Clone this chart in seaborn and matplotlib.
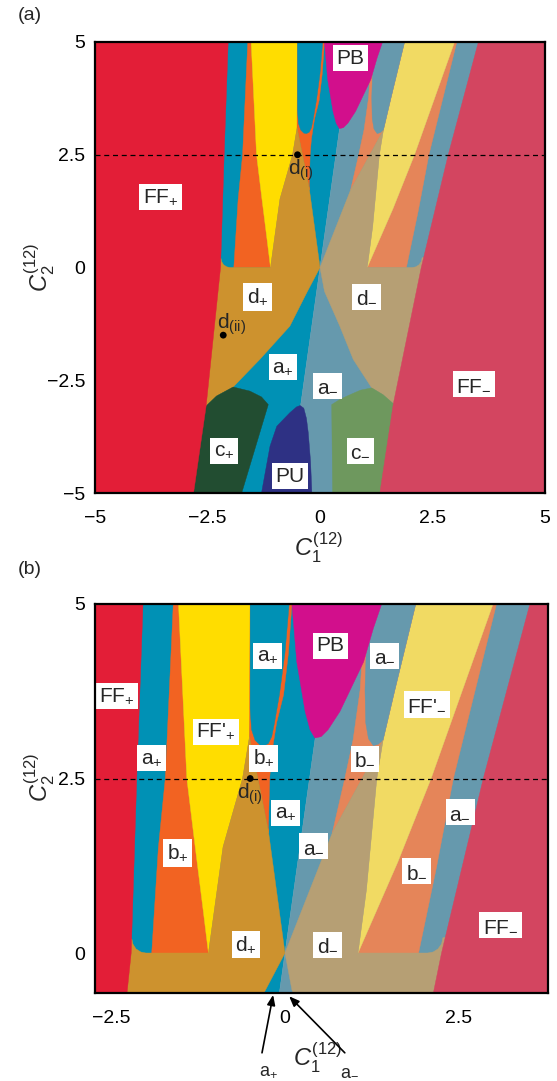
import matplotlib
matplotlib.use("Agg")
import matplotlib.pyplot as plt
import seaborn as sns

# ---------------- phase colours ----------------
C_FFP = "#E31E37"   # FF+
C_FFM = "#D34560"   # FF-
C_AP = "#0091B5"    # a+
C_AM = "#6699AD"    # a-
C_BP = "#F26322"    # b+
C_BM = "#E58559"    # b-
C_YP = "#FFDD00"    # FF'+
C_YM = "#F1DA63"    # FF'-
C_DP = "#CD922E"    # d+
C_DM = "#B69F74"    # d-
C_CP = "#224D31"    # c+
C_CM = "#6E985E"    # c-
C_PU = "#2E3184"    # PU
C_PB = "#D20F8C"    # PB

# ---------------- phase boundaries (C1, C2) ----------------
FFP_X = [-2.04, -2.13, -2.21, -2.53, -2.81]
FFP_Y = [5.0, 2.5, 0.0, -3.07, -5.0]
FFM_X = [3.52, 2.85, 2.25, 1.63, 1.33]
FFM_Y = [5.0, 2.5, 0.0, -3.02, -5.0]

SPLIT_X = [-0.705, 0.705]
SPLIT_Y = [-5.0, 5.0]

AP_COL_X = [-1.605, -1.72, -1.82, -1.915]
AP_COL_Y = [5.0, 2.5, 1.5, 0.0]
YP_L_X = [-1.53, -1.41, -1.29, -1.17, -1.10]
YP_L_Y = [5.0, 2.5, 1.52, 0.57, 0.0]
YP_R_X = [-1.10, -0.89, -0.61, -0.51]
YP_R_Y = [0.0, 1.52, 2.5, 3.1]
UP_X = [-0.50, -0.50, -0.48, -0.43, -0.36, -0.30, -0.24, -0.19, -0.15, -0.08, 0.0, 0.06]
UP_Y = [5.0, 3.5, 3.2, 3.05, 2.98, 2.97, 3.0, 3.1, 3.3, 3.7, 4.3, 5.0]
BP_X = [-0.24, -0.22, -0.19, -0.12, -0.02, 0.05, 0.10]
BP_Y = [1.72, 2.5, 2.86, 3.3, 3.7, 4.3, 5.0]
DP_R_X = [-0.51, -0.24, 0.0]
DP_R_Y = [3.1, 1.76, 0.0]
DP_ARC_X = [0.0, -0.29, -0.67, -1.34, -1.93]
DP_ARC_Y = [0.0, -0.55, -1.30, -2.04, -2.65]
DP_CORNER_X = [-2.9, -2.20, -2.186, -2.141, -2.07, -2.0]
DP_CORNER_Y = [0.2, 0.2, 0.13, 0.059, 0.014, 0.0]
CP_TOP_X = [-2.53, -2.30, -1.93, -1.56, -1.30, -1.15]
CP_TOP_Y = [-3.07, -2.85, -2.65, -2.74, -2.87, -3.04]
CP_R_X = [-1.15, -1.74]
CP_R_Y = [-3.04, -5.0]
PU_X = [-1.30, -1.11, -0.96, -0.67, -0.52, -0.44, -0.36, -0.30, -0.26, -0.21, -0.18]
PU_Y = [-5.0, -3.96, -3.52, -3.22, -3.09, -3.06, -3.12, -3.35, -3.67, -4.3, -5.0]
PB_X = [0.10, 0.17, 0.29, 0.36, 0.43, 0.52, 0.62, 0.79, 1.13, 1.27, 1.39]
PB_Y = [5.0, 4.17, 3.46, 3.2, 3.08, 3.1, 3.2, 3.46, 4.17, 4.65, 5.0]

AM_COL_X = [3.04, 2.42, 2.18, 1.92]
AM_COL_Y = [5.0, 2.5, 1.24, 0.0]
YM_R_X = [2.99, 2.10, 1.62, 1.05]
YM_R_Y = [5.0, 2.5, 1.3, 0.0]
YM_L_X = [1.88, 1.58, 1.41, 1.32, 1.17, 1.05]
YM_L_Y = [5.0, 3.77, 3.05, 2.5, 0.9, 0.0]
UM_X = [1.30, 1.17, 1.15, 1.16, 1.20, 1.27, 1.34, 1.41]
UM_Y = [5.0, 4.4, 3.77, 3.3, 3.07, 2.97, 2.99, 3.05]
BM_X = [0.68, 0.86, 0.98, 1.08, 1.12, 1.25]
BM_Y = [1.72, 2.5, 3.06, 3.77, 4.4, 5.0]
DM_L_X = [0.0, 0.68, 1.41]
DM_L_Y = [0.0, 1.72, 3.05]
DM_ARC_X = [0.0, 0.10, 0.44, 0.74, 1.15]
DM_ARC_Y = [0.0, -0.53, -1.30, -2.04, -2.67]
DM_CORNER_X = [2.05, 2.13, 2.20, 2.25, 2.27, 2.9]
DM_CORNER_Y = [0.0, 0.015, 0.06, 0.13, 0.22, 0.22]
CM_TOP_X = [0.26, 0.45, 0.67, 0.90, 1.15, 1.40, 1.63]
CM_TOP_Y = [-3.04, -2.92, -2.82, -2.72, -2.67, -2.82, -3.02]
CM_L_X = [0.26, 0.28]
CM_L_Y = [-3.04, -5.0]

# marked parameter points
DOT_X = [-0.5, -2.15]
DOT_Y = [2.5, -1.5]

# phase labels: text, C1, C2
LABELS_A = [
    (r"FF$_{+}$", -3.54, 1.56), (r"PB", 0.68, 4.64),
    (r"d$_{+}$", -1.39, -0.65), (r"d$_{-}$", 1.03, -0.65),
    (r"a$_{+}$", -0.82, -2.21), (r"a$_{-}$", 0.17, -2.62),
    (r"c$_{+}$", -2.13, -4.06), (r"c$_{-}$", 0.90, -4.06),
    (r"PU", -0.67, -4.63), (r"FF$_{-}$", 3.42, -2.59),
]
LABELS_B = [
    (r"FF$_{+}$", -2.42, 3.68), (r"a$_{+}$", -1.92, 2.79),
    (r"FF$'_{+}$", -0.99, 3.17), (r"a$_{+}$", -0.25, 4.26),
    (r"b$_{+}$", -0.31, 2.79), (r"PB", 0.65, 4.40),
    (r"a$_{-}$", 1.43, 4.26), (r"FF$'_{-}$", 2.04, 3.56),
    (r"b$_{-}$", 1.15, 2.78), (r"a$_{+}$", 0.01, 2.01),
    (r"a$_{-}$", 0.41, 1.53), (r"b$_{+}$", -1.54, 1.43),
    (r"d$_{+}$", -0.56, 0.12), (r"a$_{-}$", 2.52, 2.02),
    (r"b$_{-}$", 1.89, 1.17), (r"d$_{-}$", 0.61, 0.12),
    (r"FF$_{-}$", 3.10, 0.40),
]
POINT_TEXT_A = [(r"d$_{(\mathrm{i})}$", -0.71, 2.15), (r"d$_{(\mathrm{ii})}$", -2.28, -1.25)]
POINT_TEXT_B = [(r"d$_{(\mathrm{i})}$", -0.69, 2.28)]

TICKS_A = [-5, -2.5, 0, 2.5, 5]
TICKS_B = [-2.5, 0, 2.5]
TICKS_B_Y = [0, 2.5, 5]
LIM_A = (-5, 5, -5, 5)
LIM_B = (-2.73, 3.78, -0.573, 5)


def pts(*parts):
    xs, ys = [], []
    for px, py in parts:
        xs += list(px)
        ys += list(py)
    return xs, ys


def rev(x, y):
    return x[::-1], y[::-1]


REGIONS = [
    # base halves split by the a+/a- line
    (pts(([-5, -5], [-5, 5]), (SPLIT_X[::-1], SPLIT_Y[::-1])), C_AP),
    (pts((SPLIT_X, SPLIT_Y), ([5, 5], [5, -5])), C_AM),
    # + side upper structure
    (pts((AP_COL_X, AP_COL_Y), rev(YP_L_X, YP_L_Y)), C_BP),
    (pts((YP_L_X, YP_L_Y), (YP_R_X[1:], YP_R_Y[1:]), ([-0.50, -0.50], [3.5, 5.0])), C_YP),
    (pts((DP_R_X[:2], DP_R_Y[:2]), (BP_X, BP_Y), ([-0.50], [5.0])), C_BP),
    (pts((UP_X, UP_Y)), C_AP),
    # - side upper structure
    (pts((YM_R_X, YM_R_Y), rev(AM_COL_X, AM_COL_Y)), C_BM),
    (pts((YM_L_X, YM_L_Y), rev(YM_R_X[:-1], YM_R_Y[:-1])), C_YM),
    (pts((BM_X, BM_Y), (YM_L_X[:3], YM_L_Y[:3])), C_BM),
    (pts((UM_X, UM_Y), rev(YM_L_X[:2], YM_L_Y[:2])), C_AM),
    # d phases
    (pts((DP_CORNER_X, DP_CORNER_Y), (YP_R_X, YP_R_Y), (DP_R_X[1:], DP_R_Y[1:]),
         (DP_ARC_X[1:], DP_ARC_Y[1:]), rev(CP_TOP_X[:2], CP_TOP_Y[:2]), ([-2.9], [-3.07])), C_DP),
    (pts((DM_L_X, DM_L_Y), (YM_L_X[3:], YM_L_Y[3:]), (DM_CORNER_X, DM_CORNER_Y), ([2.9], [-3.02]),
         rev(CM_TOP_X[4:], CM_TOP_Y[4:]), rev(DM_ARC_X[1:4], DM_ARC_Y[1:4])), C_DM),
    # c phases
    (pts((CP_TOP_X, CP_TOP_Y), (CP_R_X[1:], CP_R_Y[1:]), ([-2.9, -2.9], [-5.0, -3.07])), C_CP),
    (pts((CM_TOP_X, CM_TOP_Y), ([2.9, 2.9], [-3.02, -5.0]), (CM_L_X[1:], CM_L_Y[1:])), C_CM),
    # PU / PB pockets
    (pts((PU_X, PU_Y)), C_PU),
    (pts((PB_X, PB_Y)), C_PB),
    # ferro phases on the flanks
    (pts(([-5], [5]), (FFP_X, FFP_Y), ([-5], [-5])), C_FFP),
    (pts(([5], [5]), (FFM_X, FFM_Y), ([5], [-5])), C_FFM),
]

sns.set_theme(style="ticks")
plt.rcParams["font.family"] = ["Liberation Sans", "DejaVu Sans"]
plt.rcParams["mathtext.fontset"] = "custom"
plt.rcParams["mathtext.rm"] = "Liberation Sans"
plt.rcParams["mathtext.it"] = "Liberation Sans:italic"
plt.rcParams["mathtext.bf"] = "Liberation Sans:bold"
plt.rcParams["axes.unicode_minus"] = True

W, H = 557, 1081
fig = plt.figure(figsize=(W / 100, H / 100), dpi=100)
axA = fig.add_axes([95 / W, 1 - 493 / H, 450 / W, 451 / H])
axB = fig.add_axes([95 / W, 1 - 993 / H, 453 / W, 389 / H])


def draw_phases(ax):
    for z, ((xs, ys), col) in enumerate(REGIONS):
        ax.fill(xs, ys, facecolor=col, edgecolor=col, lw=0.3, zorder=1 + z * 0.01)
    ax.axhline(2.5, color="black", lw=0.9, ls=(0, (4, 3)), zorder=3)
    sns.scatterplot(x=DOT_X, y=DOT_Y, ax=ax, color="black", s=24, edgecolor="none",
                    zorder=5, legend=False)


def put_labels(ax, labels, point_text):
    for txt, x, y in labels:
        ax.text(x, y, txt, fontsize=15, ha="center", va="center", zorder=6,
                bbox=dict(facecolor="white", edgecolor="none", pad=2.6))
    for txt, x, y in point_text:
        ax.text(x, y, txt, fontsize=15, ha="left", va="center", zorder=6)


def style_axis(ax, lims, xt, yt):
    ax.set_xlim(lims[0], lims[1])
    ax.set_ylim(lims[2], lims[3])
    ax.set_xticks(xt)
    ax.set_yticks(yt)
    fmt = lambda v: ("%g" % v).replace("-", "\u2212")
    ax.set_xticklabels([fmt(v) for v in xt])
    ax.set_yticklabels([fmt(v) for v in yt])
    ax.tick_params(direction="in", length=5, width=1.4, top=True, right=True,
                   labelsize=14, colors="black")
    ax.tick_params(axis="x", pad=12)
    ax.tick_params(axis="y", pad=7)
    for s in ax.spines.values():
        s.set_linewidth(1.6)
        s.set_color("black")
        s.set_zorder(10)
    ax.set_xlabel(r"$\mathit{C}_{1}^{(12)}$", fontsize=17)
    ax.set_ylabel(r"$\mathit{C}_{2}^{(12)}$", fontsize=17)
    ax.xaxis.label.set_va("center")
    ax.yaxis.label.set_va("center")


draw_phases(axA)
draw_phases(axB)
put_labels(axA, LABELS_A, POINT_TEXT_A)
put_labels(axB, LABELS_B, POINT_TEXT_B)
style_axis(axA, LIM_A, TICKS_A, TICKS_A)
style_axis(axB, LIM_B, TICKS_B, TICKS_B_Y)

axA.xaxis.set_label_coords(0.496, -0.122)
axA.yaxis.set_label_coords(-0.122, 0.5)
axB.xaxis.set_label_coords(0.492, -0.167)
axB.yaxis.set_label_coords(-0.121, 0.553)

# arrows pointing at the thin a+/a- wedges below the origin
for txt, xt, yt, xh, yh in [(r"a$_{+}$", -0.24, -1.69, -0.17, -0.60),
                             (r"a$_{-}$", 0.93, -1.69, 0.06, -0.62)]:
    axB.annotate("", xy=(xh, yh), xytext=(xt - 0.09 if xt < 0 else xt - 0.07, yt + 0.26),
                 annotation_clip=False,
                 arrowprops=dict(arrowstyle="-|>,head_length=0.5,head_width=0.2",
                                 color="black", lw=1.2, shrinkA=0, shrinkB=0))
    axB.text(xt, yt, txt, fontsize=13, ha="center", va="center", clip_on=False)

fig.text(18 / W, 1 - 15 / H, "(a)", fontsize=14, ha="left", va="center")
fig.text(18 / W, 1 - 570 / H, "(b)", fontsize=14, ha="left", va="center")

fig.savefig("out.png", dpi=100)
